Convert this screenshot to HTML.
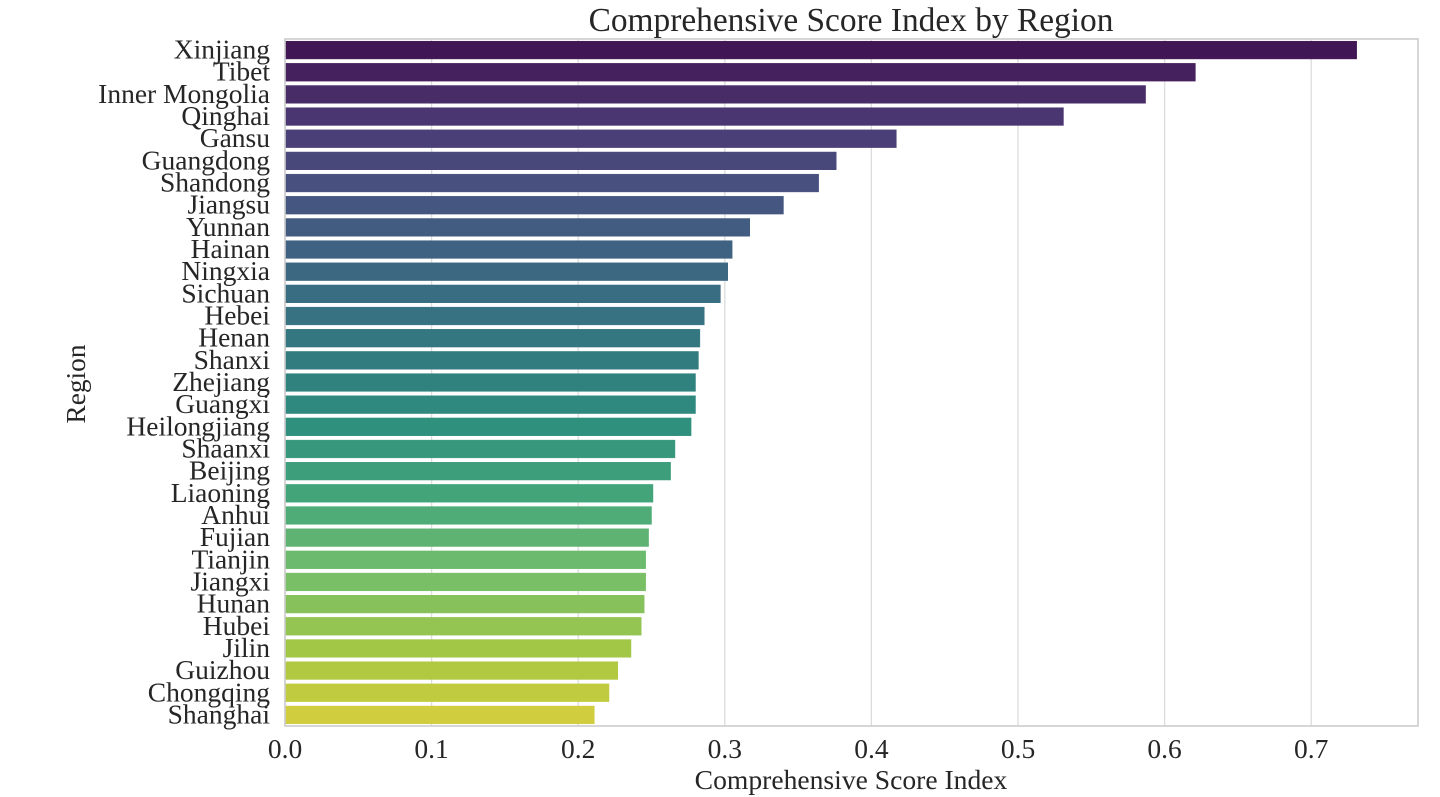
<!DOCTYPE html>
<html><head><meta charset="utf-8">
<style>
html,body{margin:0;padding:0;background:#fff;}
svg{display:block;font-family:"Liberation Serif",serif;}
</style></head>
<body>
<svg id="chart" width="1440" height="797"></svg>
<script>
const categories = ["Xinjiang","Tibet","Inner Mongolia","Qinghai","Gansu","Guangdong","Shandong","Jiangsu","Yunnan","Hainan","Ningxia","Sichuan","Hebei","Henan","Shanxi","Zhejiang","Guangxi","Heilongjiang","Shaanxi","Beijing","Liaoning","Anhui","Fujian","Tianjin","Jiangxi","Hunan","Hubei","Jilin","Guizhou","Chongqing","Shanghai"];
const values = [0.731,0.621,0.587,0.531,0.417,0.376,0.364,0.340,0.317,0.305,0.302,0.297,0.286,0.283,0.282,0.280,0.280,0.277,0.266,0.263,0.251,0.250,0.248,0.246,0.246,0.245,0.243,0.236,0.227,0.221,0.211];
const xTicks = [0,0.1,0.2,0.3,0.4,0.5,0.6,0.7];
const xTickLabels = ["0.0","0.1","0.2","0.3","0.4","0.5","0.6","0.7"];

const NS="http://www.w3.org/2000/svg";
const svg=document.getElementById('chart');
const L=285,R=1418,T=39,B=726;
const xScale=v=>L+v*1466;
const band=(B-T)/categories.length;
const yScale=i=>T+i*band;
function mk(tag,attrs,parent){const e=document.createElementNS(NS,tag);for(const k in attrs)e.setAttribute(k,attrs[k]);(parent||svg).appendChild(e);return e;}

const vir=[[68,1,84],[72,40,120],[62,74,137],[49,104,142],[38,130,142],[31,158,137],[53,183,121],[109,205,89],[180,222,44],[253,231,37]];
function viridis(t){const p=t*(vir.length-1);const i=Math.min(Math.floor(p),vir.length-2);const f=p-i;
 return vir[i].map((c,k)=>c+(vir[i+1][k]-c)*f);}
function desat(rgb,s){const r=rgb[0]/255,g=rgb[1]/255,b=rgb[2]/255;const mx=Math.max(r,g,b),mn=Math.min(r,g,b);
 let h=0,l=(mx+mn)/2,sat=0;if(mx!==mn){const d=mx-mn;sat=l>0.5?d/(2-mx-mn):d/(mx+mn);
 if(mx===r)h=((g-b)/d+(g<b?6:0));else if(mx===g)h=(b-r)/d+2;else h=(r-g)/d+4;h/=6;}
 sat*=s;const q=l<0.5?l*(1+sat):l+sat-l*sat,pp=2*l-q;
 const hu=t=>{if(t<0)t+=1;if(t>1)t-=1;if(t<1/6)return pp+(q-pp)*6*t;if(t<1/2)return q;if(t<2/3)return pp+(q-pp)*(2/3-t)*6;return pp;};
 return `rgb(${Math.round(hu(h+1/3)*255)},${Math.round(hu(h)*255)},${Math.round(hu(h-1/3)*255)})`;}

xTicks.forEach((v,i)=>{
 const g=mk('line',{x1:xScale(v),x2:xScale(v),y1:T,y2:B,stroke:'#dcdcdc','stroke-width':1.3});
 
 
 const t=mk('text',{x:xScale(v),y:758,'font-size':27.5,'text-anchor':'middle',fill:'#262626'});
 t.textContent=xTickLabels[i];
 
 
});
const n=categories.length;
categories.forEach((c,i)=>{
 const col=desat(viridis((i+1)/(n+1)),0.75);
 const h=band*0.8;
 const r=mk('rect',{x:L,y:yScale(i)+band*0.1,width:xScale(values[i])-L,height:h,fill:col,stroke:col,'stroke-width':0.5});
 
 
 const t=mk('text',{x:270,y:yScale(i)+band/2+8.5,'font-size':27.5,'text-anchor':'end',fill:'#262626'});
 t.textContent=c;
 
 
});
const fr=mk('rect',{x:L,y:T,width:R-L,height:B-T,fill:'none',stroke:'#cccccc','stroke-width':1.6});


const title=mk('text',{x:851,y:31,'font-size':33.4,'text-anchor':'middle',fill:'#262626'});
title.textContent='Comprehensive Score Index by Region';


const xl=mk('text',{x:851,y:789,'font-size':27.6,'text-anchor':'middle',fill:'#262626'});
xl.textContent='Comprehensive Score Index';


const yl=mk('text',{x:0,y:0,'font-size':27.4,'text-anchor':'middle',fill:'#262626',transform:'translate(85,384) rotate(-90)'});
yl.textContent='Region';


</script>
</body></html>
